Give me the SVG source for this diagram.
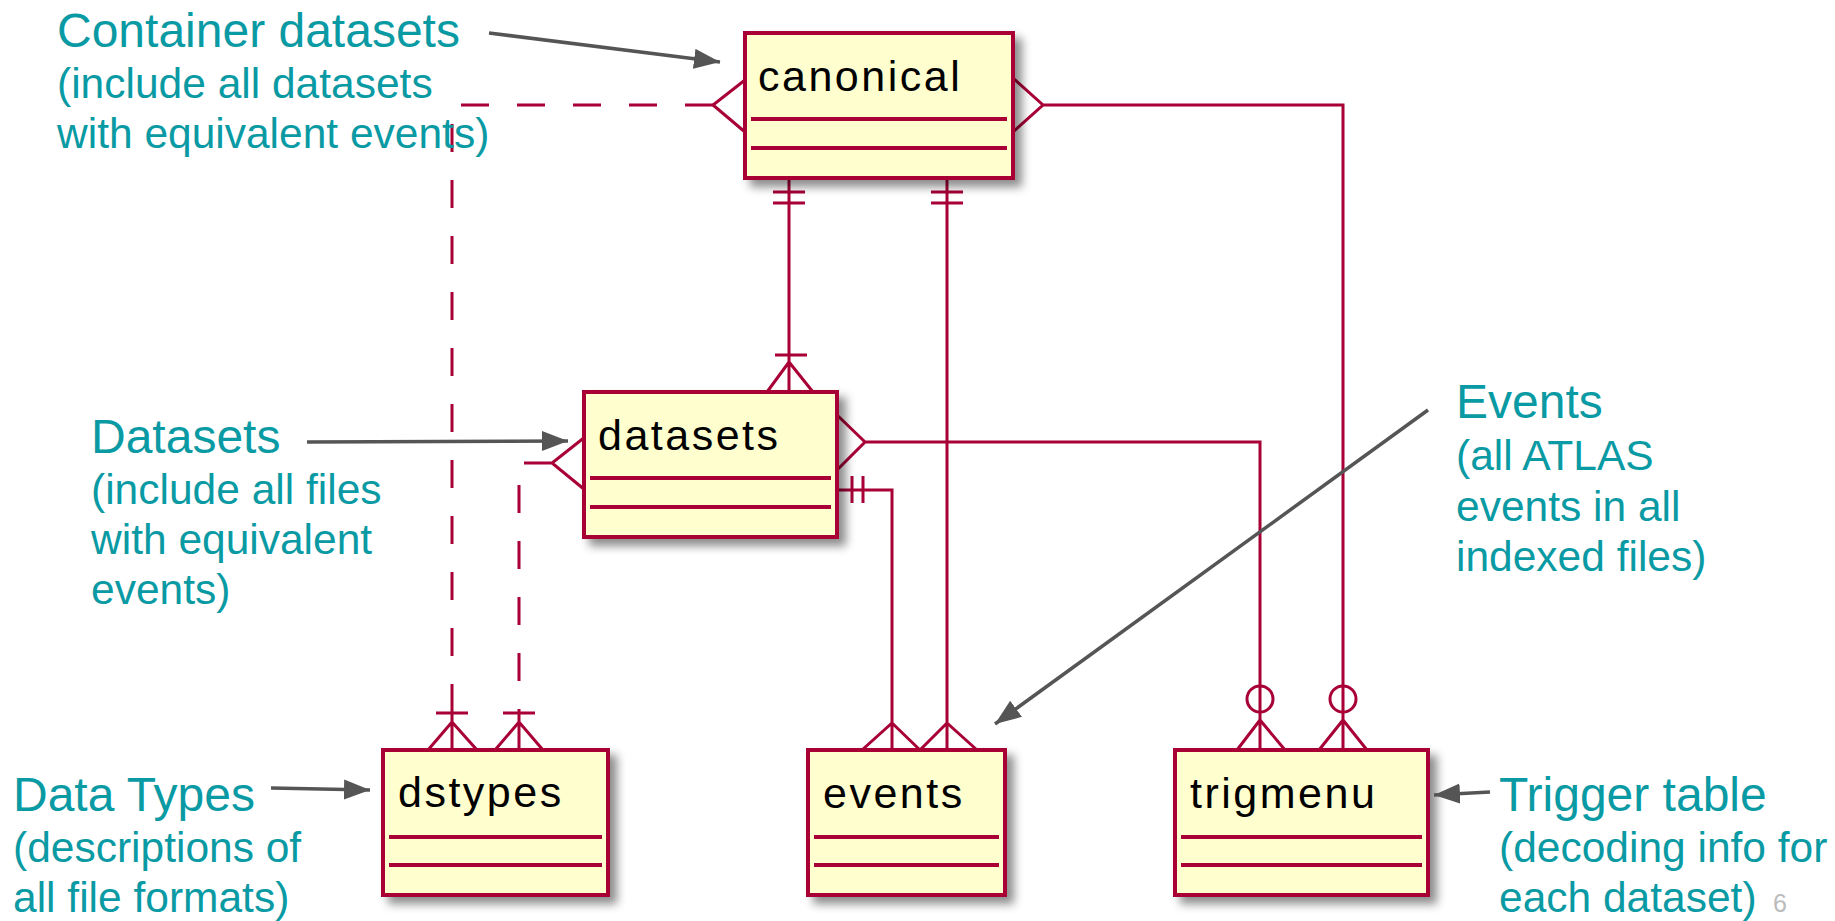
<svg xmlns="http://www.w3.org/2000/svg" width="1835" height="921" viewBox="0 0 1835 921">
<defs>
<filter id="sh" x="-20%" y="-20%" width="150%" height="150%">
<feDropShadow dx="7" dy="7" stdDeviation="5" flood-color="#000" flood-opacity="0.45"/>
</filter>
<marker id="ah" markerUnits="userSpaceOnUse" markerWidth="30" markerHeight="22" refX="26" refY="10" orient="auto">
<path d="M0,0 L26,10 L0,20 Z" fill="#555"/>
</marker>
</defs>
<style>
.box{fill:#FEFECE;stroke:#A80036;stroke-width:4}
.div{stroke:#A80036;stroke-width:4}
.nm{font-family:"Liberation Sans",Arial,sans-serif;font-size:43px;letter-spacing:2.5px;fill:#000}
.ln{fill:none;stroke:#A80036;stroke-width:3}
.dash{stroke-dasharray:28 28}
.hd{font-family:"Liberation Sans",Arial,sans-serif;font-size:48px;fill:#0A9AA4}
.sb{font-family:"Liberation Sans",Arial,sans-serif;font-size:42.5px;fill:#0A9AA4}
.ar{fill:none;stroke:#555;stroke-width:3.5;marker-end:url(#ah)}
.pg{font-family:"Liberation Sans",Arial,sans-serif;font-size:25px;fill:#BBBBBB}
</style>
<rect width="1835" height="921" fill="#fff"/>

<g id="connectors">
<path class="ln dash" d="M713,105 H452 V713"/>
<path class="ln" d="M745,80 L713,105 L745,132"/>
<path class="ln" d="M452,713 V750 M436,713 H468 M428,750 L452,722 L477,750"/>
<path class="ln" d="M585,437 L552,463 L585,490 M552,463 H524"/>
<path class="ln dash" d="M519,485 V713"/>
<path class="ln" d="M519,713 V750 M503,713 H535 M495,750 L519,722 L543,750"/>
<path class="ln" d="M789,178 V392 M773,192 H805 M773,203 H805 M775,355 H807 M767,392 L789,362 L813,392"/>
<path class="ln" d="M947,178 V750 M931,192 H963 M931,203 H963 M920,750 L947,723 L977,750"/>
<path class="ln" d="M1013,78 L1043,105 L1013,132 M1043,105 H1343 V750 M1319,750 L1343,720 L1367,750"/>
<circle class="ln" cx="1343" cy="699" r="13"/>
<path class="ln" d="M837,415 L865,442 L837,470 M865,442 H1260 V750 M1237,750 L1260,720 L1285,750"/>
<circle class="ln" cx="1260" cy="699" r="13"/>
<path class="ln" d="M837,490 H892 V750 M852,476 V503 M863,476 V503 M862,750 L892,723 L920,750"/>
</g>

<g id="canonical">
<rect class="box" filter="url(#sh)" x="745" y="33" width="268" height="145"/>
<line class="div" x1="751" y1="119" x2="1007" y2="119"/>
<line class="div" x1="751" y1="148" x2="1007" y2="148"/>
<text class="nm" x="758" y="91">canonical</text>
</g>
<g id="datasets">
<rect class="box" filter="url(#sh)" x="584" y="392" width="253" height="145"/>
<line class="div" x1="590" y1="478" x2="831" y2="478"/>
<line class="div" x1="590" y1="507" x2="831" y2="507"/>
<text class="nm" x="598" y="450">datasets</text>
</g>
<g id="dstypes">
<rect class="box" filter="url(#sh)" x="383" y="750" width="225" height="145"/>
<line class="div" x1="389" y1="837" x2="602" y2="837"/>
<line class="div" x1="389" y1="865" x2="602" y2="865"/>
<text class="nm" x="398" y="807">dstypes</text>
</g>
<g id="events">
<rect class="box" filter="url(#sh)" x="808" y="750" width="197" height="145"/>
<line class="div" x1="814" y1="837" x2="999" y2="837"/>
<line class="div" x1="814" y1="865" x2="999" y2="865"/>
<text class="nm" x="823" y="808">events</text>
</g>
<g id="trigmenu">
<rect class="box" filter="url(#sh)" x="1175" y="750" width="253" height="145"/>
<line class="div" x1="1181" y1="837" x2="1422" y2="837"/>
<line class="div" x1="1181" y1="865" x2="1422" y2="865"/>
<text class="nm" x="1190" y="808">trigmenu</text>
</g>

<g id="annotations">
<text class="hd" x="57" y="47">Container datasets</text>
<text class="sb" x="57" y="98">(include all datasets</text>
<text class="sb" x="57" y="148">with equivalent events)</text>
<path class="ar" d="M489,33 L720,62"/>

<text class="hd" x="91" y="453">Datasets</text>
<text class="sb" x="91" y="504">(include all files</text>
<text class="sb" x="91" y="554">with equivalent</text>
<text class="sb" x="91" y="604">events)</text>
<path class="ar" d="M307,442 L568,441"/>

<text class="hd" x="13" y="811">Data Types</text>
<text class="sb" x="13" y="862">(descriptions of</text>
<text class="sb" x="13" y="912">all file formats)</text>
<path class="ar" d="M271,788 L370,790"/>

<text class="hd" x="1456" y="418">Events</text>
<text class="sb" x="1456" y="470">(all ATLAS</text>
<text class="sb" x="1456" y="521">events in all</text>
<text class="sb" x="1456" y="571">indexed files)</text>
<path class="ar" d="M1428,410 L995,724"/>

<text class="hd" x="1499" y="811">Trigger table</text>
<text class="sb" x="1499" y="862">(decoding info for</text>
<text class="sb" x="1499" y="912">each dataset)</text>
<path class="ar" d="M1490,792 L1434,795"/>
<text class="pg" x="1773" y="912">6</text>
</g>
</svg>
